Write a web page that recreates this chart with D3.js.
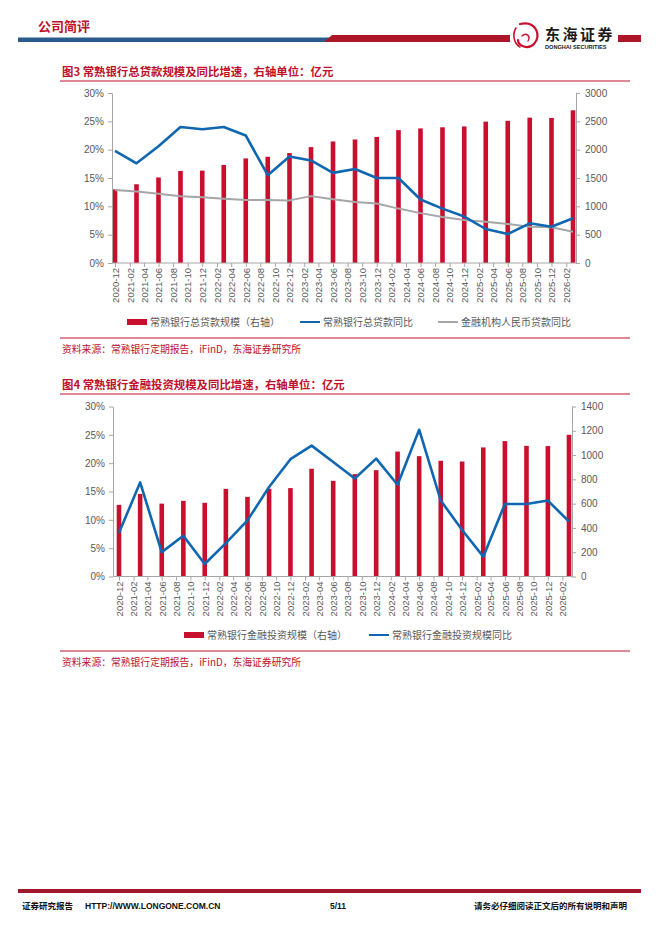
<!DOCTYPE html>
<meta charset="utf-8">
<script src="https://d3js.org/d3.v7.min.js"></script>
<style>
  body{ margin:0; background:#fff; }
  svg text{ font-family:"Liberation Sans","Noto Sans CJK SC",sans-serif; }
  .cn{ font-family:"Noto Sans CJK SC","Liberation Sans",sans-serif; }
</style>
<body>
<div id="page"></div>
<script>
// quarterly data points
const quarters = ["2020-12","2021-03","2021-06","2021-09","2021-12","2022-03","2022-06","2022-09",
  "2022-12","2023-03","2023-06","2023-09","2023-12","2024-03","2024-06","2024-09",
  "2024-12","2025-03","2025-06","2025-09","2025-12","2026-03"];

// x tick labels (every 2 months)
const tickLabels = ["2020-12","2021-02","2021-04","2021-06","2021-08","2021-10","2021-12",
  "2022-02","2022-04","2022-06","2022-08","2022-10","2022-12","2023-02","2023-04","2023-06",
  "2023-08","2023-10","2023-12","2024-02","2024-04","2024-06","2024-08","2024-10","2024-12",
  "2025-02","2025-04","2025-06","2025-08","2025-10","2025-12","2026-02"];

// 图3
const loanScale = [1300,1390,1510,1625,1630,1730,1845,1875,1940,2045,2145,2180,2225,2345,2375,2395,2410,2495,2510,2565,2560,2695];
const loanYoy   = [19.8,17.6,20.6,24.0,23.6,24.0,22.5,15.5,18.8,18.1,15.9,16.6,15.0,15.0,11.2,9.6,8.2,6.0,5.1,7.0,6.4,7.9];
const rmbLoanYoy= [12.9,12.6,12.2,11.8,11.6,11.35,11.1,11.1,11.05,11.8,11.25,10.75,10.5,9.6,8.8,8.1,7.6,7.3,6.9,6.4,6.3,5.5];

// 图4
const investScale = [590,680,600,623,607,722,656,722,728,887,788,843,876,1029,991,953,947,1063,1115,1076,1074,1167];
const investYoy   = [7.7,16.6,4.3,7.2,2.2,5.9,9.9,15.8,20.7,23.1,20.2,17.3,20.8,16.2,25.9,13.4,8.2,3.5,12.8,12.8,13.4,9.7];

const pctTicks = [0,5,10,15,20,25,30];
const loanTicks = [0,500,1000,1500,2000,2500,3000];
const investTicks = [0,200,400,600,800,1000,1200,1400];

const RED = "#c8102e", BLUE = "#0f67b1", GRAY = "#a6a6a6", TXT = "#595959", TITLE = "#c0102a";
const pm = d3.timeParse("%Y-%m");

const svg = d3.select("#page").append("svg")
  .attr("width", 662).attr("height", 936);

// ---------- header ----------
svg.append("text").attr("class","cn").attr("x",38).attr("y",31)
  .attr("fill",TITLE).attr("font-size",13).attr("font-weight","bold").text("公司简评");
svg.append("rect").attr("x",18).attr("y",37.5).attr("width",312).attr("height",4.5).attr("fill","#2b5a8c");
svg.append("path").attr("d","M324,42 L332,35 L510,35 L510,42 Z").attr("fill","#ad1529");
svg.append("rect").attr("x",618).attr("y",35).attr("width",23).attr("height",7).attr("fill","#ad1529");
// logo swirl
const logo = svg.append("g").attr("fill","none").attr("stroke","#c8102e").attr("stroke-linecap","round");
logo.append("path").attr("d","M520,24 C536,20 542,36 534,44 C528,50 518,46 518,40").attr("stroke-width",2.2);
logo.append("path").attr("d","M516,28 C512,34 514,44 520,47").attr("stroke-width",1.6);
logo.append("path").attr("d","M522,36 C526,32 531,36 528,41").attr("stroke-width",1.4);
svg.append("text").attr("class","cn").attr("x",545).attr("y",40).attr("font-size",15)
  .attr("font-weight","bold").attr("fill","#1a1a1a").attr("letter-spacing",2.5).text("东海证券");
svg.append("text").attr("x",545).attr("y",48.5).attr("font-size",5.6)
  .attr("font-weight","bold").attr("fill","#1a1a1a").text("DONGHAI SECURITIES");

// ---------- chart builder ----------
function drawChart(cfg){
  const g = svg.append("g");
  // title
  g.append("text").attr("class","cn").attr("x",62).attr("y",cfg.titleY)
    .attr("fill",TITLE).attr("font-size",11.4).attr("font-weight","bold").text(cfg.title);
  g.append("line").attr("x1",60).attr("x2",630).attr("y1",cfg.titleY+5.5).attr("y2",cfg.titleY+5.5)
    .attr("stroke",TITLE).attr("stroke-width",1);

  const x = d3.scaleTime().domain([pm("2020-12"), pm("2026-03")]).range([cfg.bx0, cfg.bx1]);
  const yL = d3.scaleLinear().domain([0,30]).range([cfg.bottom, cfg.top]);
  const yR = d3.scaleLinear().domain([0, cfg.rMax]).range([cfg.bottom, cfg.top]);

  // bars
  g.selectAll(".bar").data(quarters).join("rect")
    .attr("x", d => x(pm(d)) - 2.3)
    .attr("width", 4.6)
    .attr("y", (d,i) => yR(cfg.bars[i]))
    .attr("height", (d,i) => cfg.bottom - yR(cfg.bars[i]))
    .attr("fill", RED);

  // lines
  cfg.lines.forEach(s => {
    const line = d3.line().x((d,i) => x(pm(quarters[i]))).y(d => yL(d));
    g.append("path").datum(s.values).attr("d", line)
      .attr("fill","none").attr("stroke", s.color).attr("stroke-width", s.width)
      .attr("stroke-linejoin","round");
  });

  // left axis
  const la = g.append("g").attr("transform",`translate(${cfg.left},0)`)
    .call(d3.axisLeft(yL).tickValues(pctTicks).tickFormat(d => d + "%").tickSize(4).tickSizeOuter(0));
  // right axis
  const ra = g.append("g").attr("transform",`translate(${cfg.right},0)`)
    .call(d3.axisRight(yR).tickValues(cfg.rTicks).tickFormat(d3.format("d")).tickSize(4).tickSizeOuter(0));
  [la, ra].forEach(a => {
    a.select(".domain").attr("stroke","#a6a6a6");
    a.selectAll(".tick line").attr("stroke","#a6a6a6");
    a.selectAll("text").attr("fill",TXT).attr("font-size",10);
  });
  la.selectAll("text").attr("x",-8);
  ra.selectAll("text").attr("x",9);

  // bottom axis
  const xa = g.append("g").attr("transform",`translate(0,${cfg.bottom})`)
    .call(d3.axisBottom(x).tickValues(tickLabels.map(pm)).tickFormat(d3.timeFormat("%Y-%m")).tickSize(4));
  xa.select(".domain").remove();
  xa.selectAll(".tick line").attr("stroke","#a6a6a6");
  xa.selectAll("text")
    .attr("fill",TXT).attr("font-size",9.5)
    .attr("transform","rotate(-90)")
    .attr("text-anchor","end")
    .attr("x",-5).attr("y",0).attr("dy","0.35em");
  g.append("line").attr("x1",cfg.left).attr("x2",cfg.right).attr("y1",cfg.bottom).attr("y2",cfg.bottom)
    .attr("stroke","#a6a6a6");

  // legend
  const lg = g.append("g").attr("transform",`translate(0,${cfg.legendY})`);
  cfg.legend.forEach(item => {
    if (item.type === "bar") {
      lg.append("rect").attr("x",item.x).attr("y",-3).attr("width",20).attr("height",6).attr("fill",RED);
    } else {
      lg.append("line").attr("x1",item.x).attr("x2",item.x+20).attr("y1",0).attr("y2",0)
        .attr("stroke",item.color).attr("stroke-width",2);
    }
    lg.append("text").attr("class","cn").attr("x",item.x+23).attr("y",0).attr("dy","0.36em")
      .attr("fill",TXT).attr("font-size",10).text(item.label);
  });

  // source
  g.append("line").attr("x1",60).attr("x2",630).attr("y1",cfg.sourceY).attr("y2",cfg.sourceY)
    .attr("stroke",TITLE).attr("stroke-width",1);
  g.append("text").attr("class","cn").attr("x",62).attr("y",cfg.sourceY+15)
    .attr("fill",TITLE).attr("font-size",9.8).text("资料来源：常熟银行定期报告，iFinD，东海证券研究所");
}

drawChart({
  title:"图3  常熟银行总贷款规模及同比增速，右轴单位：亿元", titleY:75.5,
  top:93, bottom:263, left:112, right:576, bx0:115, bx1:573,
  rMax:3000, rTicks:loanTicks, bars:loanScale,
  lines:[{values:rmbLoanYoy,color:GRAY,width:2},{values:loanYoy,color:BLUE,width:2.6}],
  legendY:322, sourceY:338,
  legend:[{type:"bar",x:127,label:"常熟银行总贷款规模（右轴）"},
          {type:"line",x:300,color:BLUE,label:"常熟银行总贷款同比"},
          {type:"line",x:438,color:GRAY,label:"金融机构人民币贷款同比"}]
});

drawChart({
  title:"图4  常熟银行金融投资规模及同比增速，右轴单位：亿元", titleY:388.5,
  top:406.5, bottom:576.5, left:113, right:572, bx0:119, bx1:569,
  rMax:1400, rTicks:investTicks, bars:investScale,
  lines:[{values:investYoy,color:BLUE,width:2.6}],
  legendY:635, sourceY:651,
  legend:[{type:"bar",x:184,label:"常熟银行金融投资规模（右轴）"},
          {type:"line",x:369,color:BLUE,label:"常熟银行金融投资规模同比"}]
});

// ---------- footer ----------
svg.append("rect").attr("x",18).attr("y",889).attr("width",623).attr("height",4).attr("fill","#a3172b");
const ft = svg.append("g").attr("font-size",8.5).attr("font-weight","bold").attr("fill","#111");
ft.append("text").attr("class","cn").attr("x",22).attr("y",909).text("证券研究报告");
ft.append("text").attr("x",85).attr("y",909).text("HTTP://WWW.LONGONE.COM.CN");
ft.append("text").attr("x",330).attr("y",909).text("5/11");
ft.append("text").attr("class","cn").attr("x",627).attr("y",909).attr("text-anchor","end").text("请务必仔细阅读正文后的所有说明和声明");
</script>
</body>
